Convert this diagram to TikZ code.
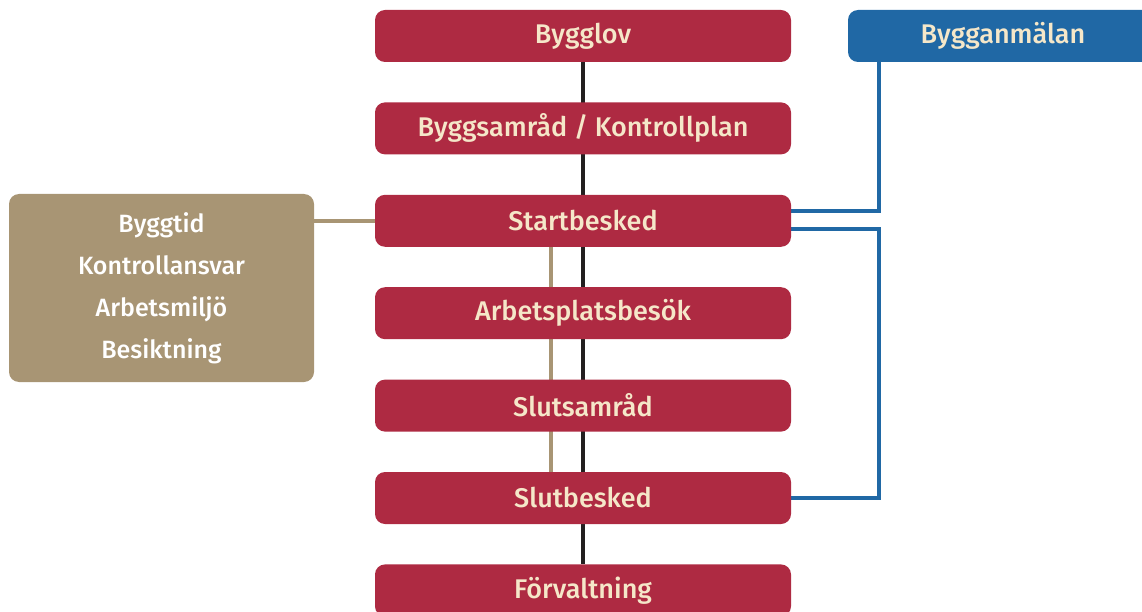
\documentclass[tikz,border=0pt]{standalone}
\usepackage{fontspec}
\setmainfont{Fira Sans}[BoldFont={Fira Sans Medium}]
\usepackage{tikz}
\usetikzlibrary{positioning, calc, backgrounds}
\usepackage{xcolor}
\definecolor{crimson}{HTML}{AE2A42}
\definecolor{steel}{HTML}{2068A5}
\definecolor{khaki}{HTML}{A89574}
\definecolor{cream}{HTML}{F5E7C9}
\definecolor{ink}{HTML}{231F20}

\tikzset{
    phase/.style={fill=crimson, rounded corners=10pt, minimum width=416pt, minimum height=52pt, inner sep=0pt, text=cream, font=\bfseries\fontsize{27}{30}\selectfont},
    mainline/.style={draw=ink, line width=4pt},
    sideline/.style={draw=khaki, line width=4pt},
    reportline/.style={draw=steel, line width=4pt}
}

\begin{document}
\begin{tikzpicture}[x=1pt, y=-1pt]
    \useasboundingbox (0,0) rectangle (1142,612);
    \node[phase] (bygglov) at (583,36) {Bygglov};
    \node[phase, below=40pt of bygglov] (samrad) {Byggsamråd / Kontrollplan};
    \node[phase, below=40pt of samrad] (start) {Startbesked};
    \node[phase, below=40pt of start] (besok) {Arbetsplatsbesök};
    \node[phase, below=40pt of besok] (slutsamrad) {Slutsamråd};
    \node[phase, below=40pt of slutsamrad] (slutbesked) {Slutbesked};
    \node[phase, below=40pt of slutbesked] (forvaltning) {Förvaltning};

    \node[fill=steel, rounded corners=10pt, minimum width=310pt, minimum height=52pt, inner sep=0pt, text=cream, font=\bfseries\fontsize{27}{30}\selectfont] (anmalan) at (1003,36) {Bygganmälan};

    \node[fill=khaki, rounded corners=10pt, minimum width=305pt, minimum height=188pt, inner sep=0pt, text=white, align=center, font=\bfseries\fontsize{25}{42}\selectfont] (tillsyn) at (161.5,288) {Byggtid\\Kontrollansvar\\Arbetsmiljö\\Besiktning};

    \begin{scope}[on background layer]
        \draw[mainline] (bygglov) -- (forvaltning);
        \draw[sideline] ([xshift=-32pt]start.south) -- ([xshift=-32pt]slutbesked.north);
        \draw[sideline] (start.west) -- (start.west -| tillsyn.east);
        \draw[reportline] ([xshift=31pt]anmalan.south west) |- ([yshift=10pt]start.east);
        \draw[reportline] ([yshift=-8pt]start.east) -| ([xshift=31pt]anmalan.west |- slutbesked.east) -- (slutbesked.east);
    \end{scope}
\end{tikzpicture}
\end{document}
